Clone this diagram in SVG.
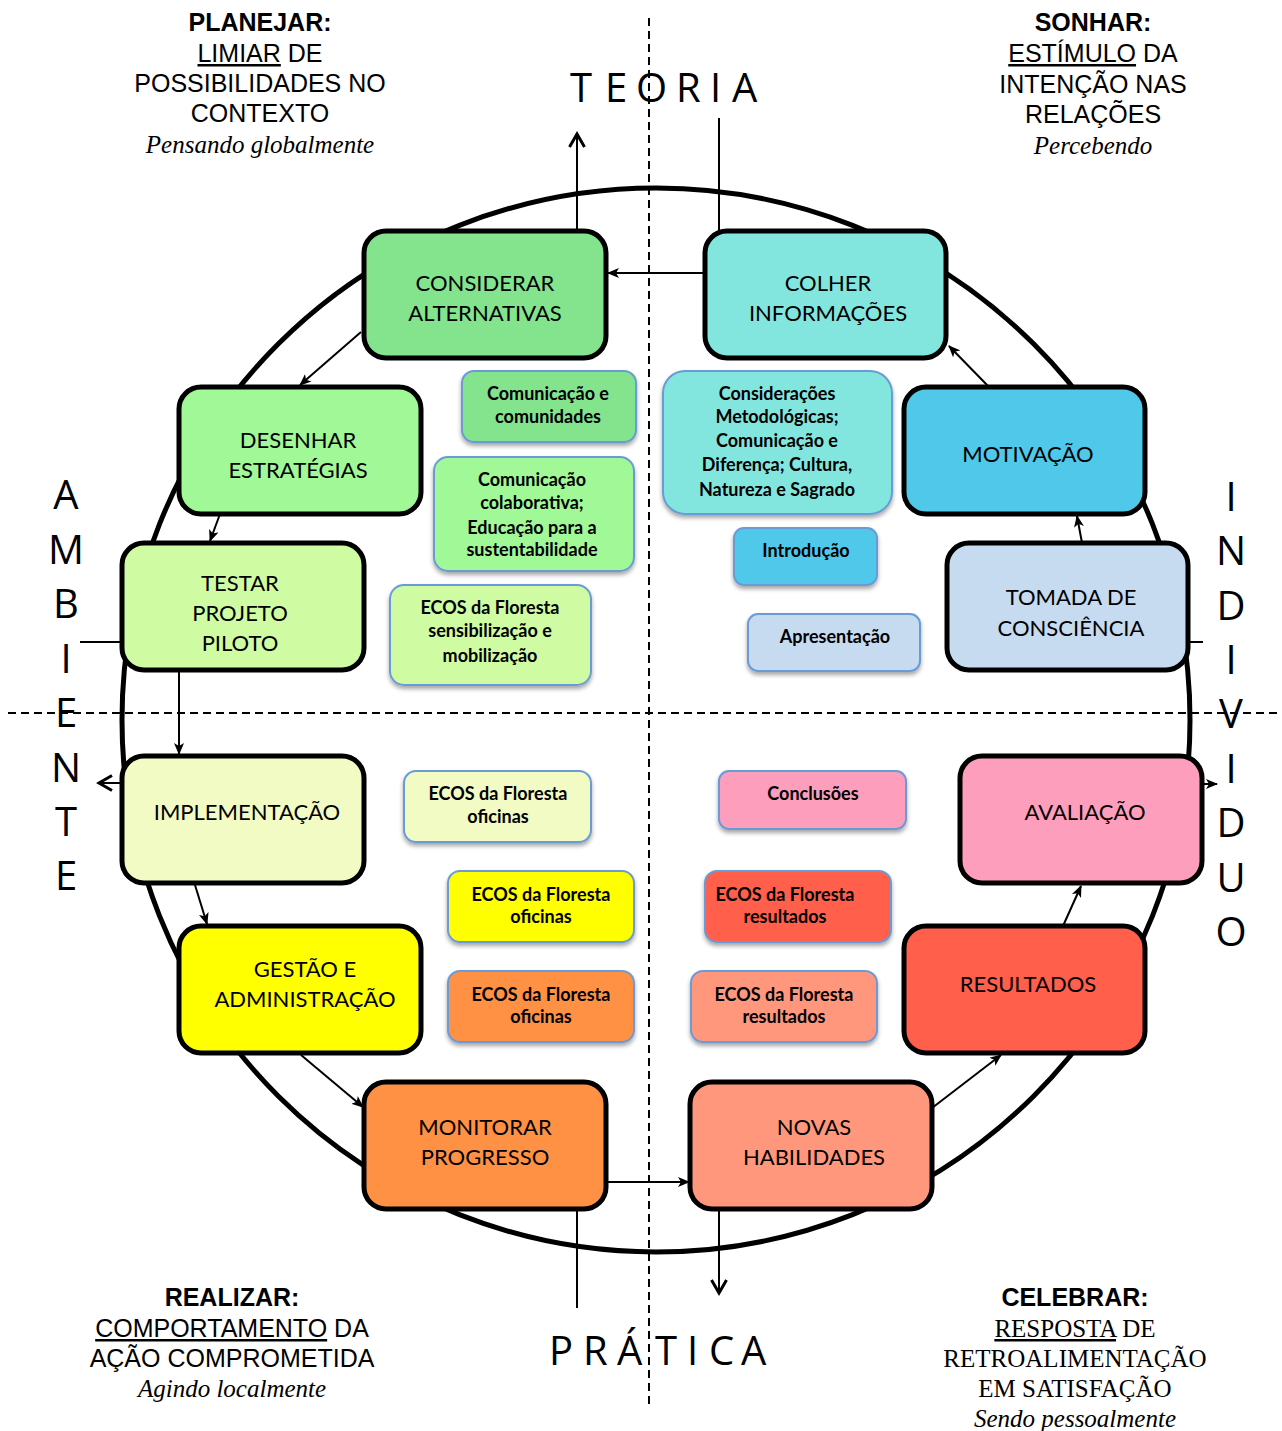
<svg xmlns="http://www.w3.org/2000/svg" width="1282" height="1431" viewBox="0 0 1282 1431">
<defs>
<style>
.big{stroke:#000;stroke-width:5}
.sm{stroke:#6A9BD6;stroke-width:2;filter:url(#sh)}
.bt{font-family:Lato,"Open Sans",sans-serif;font-size:22px;fill:#000;text-anchor:middle}
.st{font-family:Lato,"Open Sans",sans-serif;font-size:18px;font-weight:bold;fill:#000;text-anchor:middle}
.ax{font-family:"Open Sans",sans-serif;font-size:40px;fill:#000}
.axv{font-family:"Open Sans",sans-serif;font-size:40px;fill:#000;text-anchor:middle}
.hd{font-family:"Liberation Sans",Arial,sans-serif;font-size:25px;fill:#000;text-anchor:middle}
.hs{font-family:"Liberation Serif","Times New Roman",serif;font-size:25px;fill:#000;text-anchor:middle}
.con{stroke:#000;stroke-width:2;fill:none}
.dash{stroke:#000;stroke-width:2;stroke-dasharray:8 5;fill:none}
</style>
<filter id="sh" x="-10%" y="-10%" width="120%" height="130%">
<feDropShadow dx="0" dy="3" stdDeviation="2" flood-color="#000" flood-opacity="0.35"/>
</filter>
<marker id="ah" viewBox="0 0 12 10" refX="11" refY="5" markerWidth="12" markerHeight="10" markerUnits="userSpaceOnUse" orient="auto">
<path d="M0,0 L12,5 L0,10 L3,5 z" fill="#000"/>
</marker>
<marker id="chev" viewBox="0 0 18 18" refX="15" refY="9" markerWidth="18" markerHeight="18" markerUnits="userSpaceOnUse" orient="auto">
<path d="M2,1.5 L15,9 L2,16.5" fill="none" stroke="#000" stroke-width="3"/>
</marker>
</defs>
<rect width="1282" height="1431" fill="#fff"/>

<g id="axes">
<line class="dash" x1="649" y1="18" x2="649" y2="1405"/>
<line class="dash" x1="8" y1="713" x2="1278" y2="713"/>
</g>

<ellipse id="cycle" cx="656" cy="720" rx="534" ry="532" fill="none" stroke="#000" stroke-width="5"/>

<g id="axis-labels">
<text class="ax" x="570 605 636 676 710 732" y="102">TEORIA</text>
<text class="ax" x="549 583 617 655 687 709 741" y="1365">PRÁTICA</text>
<text class="axv" x="66" y="509">A</text>
<text class="axv" x="66" y="564">M</text>
<text class="axv" x="66" y="618">B</text>
<text class="axv" x="66" y="673">I</text>
<text class="axv" x="66" y="727">E</text>
<text class="axv" x="66" y="782">N</text>
<text class="axv" x="66" y="836">T</text>
<text class="axv" x="66" y="890">E</text>
<text class="axv" x="1231" y="511">I</text>
<text class="axv" x="1231" y="565">N</text>
<text class="axv" x="1231" y="620">D</text>
<text class="axv" x="1231" y="674">I</text>
<text class="axv" x="1231" y="728">V</text>
<text class="axv" x="1231" y="783">I</text>
<text class="axv" x="1231" y="837">D</text>
<text class="axv" x="1231" y="892">U</text>
<text class="axv" x="1231" y="946">O</text>
</g>

<g id="quadrant-planejar">
<text class="hd" x="260" y="31" font-weight="bold">PLANEJAR:</text>
<text class="hd" x="260" y="62"><tspan text-decoration="underline">LIMIAR</tspan> DE</text>
<text class="hd" x="260" y="92">POSSIBILIDADES NO</text>
<text class="hd" x="260" y="122">CONTEXTO</text>
<text class="hs" x="260" y="153" font-style="italic">Pensando globalmente</text>
</g>
<g id="quadrant-sonhar">
<text class="hd" x="1093" y="31" font-weight="bold">SONHAR:</text>
<text class="hd" x="1093" y="62"><tspan text-decoration="underline">ESTÍMULO</tspan> DA</text>
<text class="hd" x="1093" y="93">INTENÇÃO NAS</text>
<text class="hd" x="1093" y="123">RELAÇÕES</text>
<text class="hs" x="1093" y="154" font-style="italic">Percebendo</text>
</g>
<g id="quadrant-realizar">
<text class="hd" x="232" y="1306" font-weight="bold">REALIZAR:</text>
<text class="hd" x="232" y="1337"><tspan text-decoration="underline">COMPORTAMENTO</tspan> DA</text>
<text class="hd" x="232" y="1367">AÇÃO COMPROMETIDA</text>
<text class="hs" x="232" y="1397" font-style="italic">Agindo localmente</text>
</g>
<g id="quadrant-celebrar">
<text class="hd" x="1075" y="1306" font-weight="bold">CELEBRAR:</text>
<text class="hs" x="1075" y="1337"><tspan text-decoration="underline">RESPOSTA</tspan> DE</text>
<text class="hs" x="1075" y="1367">RETROALIMENTAÇÃO</text>
<text class="hs" x="1075" y="1397">EM SATISFAÇÃO</text>
<text class="hs" x="1075" y="1427" font-style="italic">Sendo pessoalmente</text>
</g>

<g id="connectors">
<line class="con" x1="577" y1="231" x2="577" y2="134" stroke-width="3" marker-end="url(#chev)"/>
<line class="con" x1="719" y1="118" x2="719" y2="231"/>
<line class="con" x1="705" y1="273" x2="608" y2="273" marker-end="url(#ah)"/>
<line class="con" x1="361" y1="332" x2="300" y2="385" marker-end="url(#ah)"/>
<line class="con" x1="220" y1="514" x2="210" y2="541" marker-end="url(#ah)"/>
<line class="con" x1="80" y1="642" x2="122" y2="642"/>
<line class="con" x1="179" y1="670" x2="179" y2="754" marker-end="url(#ah)"/>
<line class="con" x1="122" y1="783" x2="99" y2="783" stroke-width="3" marker-end="url(#chev)"/>
<line class="con" x1="195" y1="885" x2="207" y2="924" marker-end="url(#ah)"/>
<line class="con" x1="301" y1="1055" x2="363" y2="1107" marker-end="url(#ah)"/>
<line class="con" x1="606" y1="1182" x2="689" y2="1182" marker-end="url(#ah)"/>
<line class="con" x1="577" y1="1209" x2="577" y2="1308"/>
<line class="con" x1="719" y1="1209" x2="719" y2="1293" stroke-width="3" marker-end="url(#chev)"/>
<line class="con" x1="932" y1="1108" x2="1001" y2="1055" marker-end="url(#ah)"/>
<line class="con" x1="1063" y1="926" x2="1081" y2="886" marker-end="url(#ah)"/>
<line class="con" x1="1202" y1="784" x2="1217" y2="784" marker-end="url(#ah)"/>
<line class="con" x1="1188" y1="642" x2="1203" y2="642"/>
<line class="con" x1="1082" y1="543" x2="1077" y2="516" marker-end="url(#ah)"/>
<line class="con" x1="988" y1="386" x2="949" y2="346" marker-end="url(#ah)"/>
</g>

<g id="n-considerar"><rect class="big" x="364" y="231" width="242" height="127" rx="22" fill="#83E48D"/>
<text class="bt" x="485" y="291">CONSIDERAR</text><text class="bt" x="485" y="321">ALTERNATIVAS</text></g>
<g id="n-colher"><rect class="big" x="705" y="231" width="241" height="127" rx="22" fill="#82E6DE"/>
<text class="bt" x="828" y="291">COLHER</text><text class="bt" x="828" y="321">INFORMAÇÕES</text></g>
<g id="n-desenhar"><rect class="big" x="179" y="387" width="242" height="127" rx="22" fill="#A0F897"/>
<text class="bt" x="298" y="448">DESENHAR</text><text class="bt" x="298" y="478">ESTRATÉGIAS</text></g>
<g id="n-motivacao"><rect class="big" x="904" y="387" width="241" height="127" rx="22" fill="#4FC8EA"/>
<text class="bt" x="1028" y="462">MOTIVAÇÃO</text></g>
<g id="n-testar"><rect class="big" x="122" y="543" width="242" height="127" rx="22" fill="#CFFBA3"/>
<text class="bt" x="240" y="591">TESTAR</text><text class="bt" x="240" y="621">PROJETO</text><text class="bt" x="240" y="651">PILOTO</text></g>
<g id="n-tomada"><rect class="big" x="947" y="543" width="241" height="127" rx="22" fill="#C6DAF0"/>
<text class="bt" x="1071" y="605">TOMADA DE</text><text class="bt" x="1071" y="636">CONSCIÊNCIA</text></g>
<g id="n-implementacao"><rect class="big" x="122" y="756" width="242" height="127" rx="22" fill="#F2FBC4"/>
<text class="bt" x="247" y="820">IMPLEMENTAÇÃO</text></g>
<g id="n-avaliacao"><rect class="big" x="960" y="756" width="242" height="127" rx="22" fill="#FE9EBD"/>
<text class="bt" x="1085" y="820">AVALIAÇÃO</text></g>
<g id="n-gestao"><rect class="big" x="179" y="926" width="242" height="127" rx="22" fill="#FFFF00"/>
<text class="bt" x="305" y="977">GESTÃO E</text><text class="bt" x="305" y="1007">ADMINISTRAÇÃO</text></g>
<g id="n-resultados"><rect class="big" x="904" y="926" width="241" height="127" rx="22" fill="#FF5F4B"/>
<text class="bt" x="1028" y="992">RESULTADOS</text></g>
<g id="n-monitorar"><rect class="big" x="364" y="1082" width="242" height="127" rx="22" fill="#FF9144"/>
<text class="bt" x="485" y="1135">MONITORAR</text><text class="bt" x="485" y="1165">PROGRESSO</text></g>
<g id="n-novas"><rect class="big" x="690" y="1082" width="242" height="127" rx="22" fill="#FF977D"/>
<text class="bt" x="814" y="1135">NOVAS</text><text class="bt" x="814" y="1165">HABILIDADES</text></g>

<g id="s-comunidades"><rect class="sm" x="462" y="371" width="174" height="71" rx="12" fill="#83E48D"/>
<text class="st" x="548" y="400">Comunicação e</text><text class="st" x="548" y="423">comunidades</text></g>
<g id="s-colaborativa"><rect class="sm" x="434" y="457" width="200" height="114" rx="14" fill="#A0F897"/>
<text class="st" x="532" y="486">Comunicação</text><text class="st" x="532" y="509">colaborativa;</text><text class="st" x="532" y="534">Educação para a</text><text class="st" x="532" y="556">sustentabilidade</text></g>
<g id="s-sensibilizacao"><rect class="sm" x="390" y="585" width="201" height="100" rx="14" fill="#CFFBA3"/>
<text class="st" x="490" y="614">ECOS da Floresta</text><text class="st" x="490" y="637">sensibilização e</text><text class="st" x="490" y="662">mobilização</text></g>
<g id="s-consideracoes"><rect class="sm" x="663" y="371" width="229" height="143" rx="22" fill="#82E6DE"/>
<text class="st" x="777" y="400">Considerações</text><text class="st" x="777" y="423">Metodológicas;</text><text class="st" x="777" y="447">Comunicação e</text><text class="st" x="777" y="471">Diferença; Cultura,</text><text class="st" x="777" y="496">Natureza e Sagrado</text></g>
<g id="s-introducao"><rect class="sm" x="734" y="528" width="143" height="57" rx="10" fill="#4FC8EA"/>
<text class="st" x="806" y="557">Introdução</text></g>
<g id="s-apresentacao"><rect class="sm" x="748" y="614" width="172" height="57" rx="10" fill="#C6DAF0"/>
<text class="st" x="835" y="643">Apresentação</text></g>
<g id="s-oficinas1"><rect class="sm" x="404" y="771" width="187" height="71" rx="12" fill="#F2FBC4"/>
<text class="st" x="498" y="800">ECOS da Floresta</text><text class="st" x="498" y="823">oficinas</text></g>
<g id="s-oficinas2"><rect class="sm" x="448" y="871" width="186" height="71" rx="12" fill="#FFFF00"/>
<text class="st" x="541" y="901">ECOS da Floresta</text><text class="st" x="541" y="923">oficinas</text></g>
<g id="s-oficinas3"><rect class="sm" x="448" y="971" width="186" height="71" rx="12" fill="#FF9144"/>
<text class="st" x="541" y="1001">ECOS da Floresta</text><text class="st" x="541" y="1023">oficinas</text></g>
<g id="s-conclusoes"><rect class="sm" x="719" y="771" width="187" height="58" rx="10" fill="#FE9EBD"/>
<text class="st" x="813" y="800">Conclusões</text></g>
<g id="s-resultados1"><rect class="sm" x="705" y="871" width="186" height="71" rx="12" fill="#FF5F4B"/>
<text class="st" x="785" y="901">ECOS da Floresta</text><text class="st" x="785" y="923">resultados</text></g>
<g id="s-resultados2"><rect class="sm" x="691" y="971" width="186" height="71" rx="12" fill="#FF977D"/>
<text class="st" x="784" y="1001">ECOS da Floresta</text><text class="st" x="784" y="1023">resultados</text></g>
</svg>
